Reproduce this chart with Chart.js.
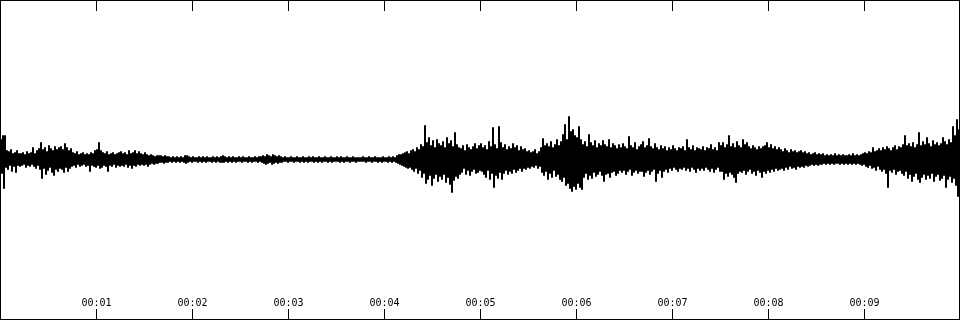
<!DOCTYPE html>
<html>
<head>
<meta charset="utf-8">
<script src="https://cdn.jsdelivr.net/npm/chart.js@4/dist/chart.umd.min.js"></script>
<style>
html,body{margin:0;padding:0;background:#fff;}
#wrap{width:960px;height:320px;}
</style>
</head>
<body>
<div id="wrap"><canvas id="c" width="960" height="320"></canvas></div>
<script>
// Audio waveform envelope: one bin = 1/48 s, peak (hi) and trough (lo) amplitude per bin
const durationSeconds = 10;
const tickSeconds = [1, 2, 3, 4, 5, 6, 7, 8, 9];
const tickLabels = ["00:01", "00:02", "00:03", "00:04", "00:05", "00:06", "00:07", "00:08", "00:09"];

const hi = [
  20,24,24,9,8,10,6,7,9,6,
  6,7,5,8,6,7,12,6,9,11,
  17,10,12,8,14,11,9,13,10,12,
  13,10,16,12,9,11,7,6,8,5,
  6,7,5,6,5,7,6,9,10,17,
  9,7,6,8,5,6,7,5,6,7,
  8,6,7,5,9,6,7,9,6,8,
  6,5,7,5,4,5,4,3,4,4,
  4,3,4,3,3,2,3,2,3,2,
  3,2,4,4,3,2,3,2,2,3,
  2,3,2,3,2,2,3,2,3,2,
  3,4,3,2,3,2,3,2,2,3,
  2,3,2,2,3,2,2,3,2,3,
  3,4,3,5,4,3,5,4,3,4,
  3,2,3,2,2,3,2,2,3,2,
  2,3,2,2,3,2,3,2,2,3,
  2,2,3,2,2,3,2,2,3,2,
  3,2,2,3,2,2,3,2,2,2,
  2,3,2,2,3,2,2,3,2,2,
  2,3,2,2,3,2,3,2,4,5,
  5,6,7,8,6,9,10,8,12,10,
  15,13,34,17,22,14,19,12,20,16,
  14,18,12,22,16,19,13,27,15,12,
  11,14,9,15,12,10,13,16,11,14,
  16,12,14,10,18,13,32,15,11,33,
  17,12,15,10,13,11,16,12,14,9,
  13,10,11,8,9,7,8,10,6,8,
  12,21,14,16,13,18,12,15,20,14,
  18,25,35,20,43,28,30,24,22,33,
  20,15,18,13,25,17,14,19,12,16,
  14,19,15,13,20,12,16,14,11,15,
  12,16,13,11,23,14,12,17,10,13,
  15,18,12,14,21,13,11,16,12,10,
  14,11,13,9,12,10,14,11,9,12,
  11,13,9,20,12,10,14,9,12,11,
  10,13,9,12,11,15,10,12,9,17,
  14,17,12,15,24,13,16,12,18,14,
  12,20,15,17,13,11,14,12,10,13,
  11,13,14,17,12,15,11,13,10,12,
  10,8,11,9,7,10,8,9,7,8,
  9,7,8,6,7,5,6,7,5,6,
  5,6,4,5,4,5,4,6,4,5,
  4,5,4,4,5,4,6,4,5,4,
  5,6,7,6,8,7,12,8,9,11,
  9,12,10,13,11,9,12,14,10,13,
  12,15,24,14,16,13,17,12,15,27,
  14,18,15,22,16,13,19,15,17,14,
  16,22,18,15,20,17,33,24,40,30
];

const lo = [
  -14,-29,-8,-10,-6,-12,-7,-13,-6,-7,
  -6,-5,-8,-6,-7,-5,-7,-9,-6,-10,
  -19,-9,-15,-11,-8,-13,-16,-10,-12,-9,
  -10,-13,-8,-12,-9,-7,-6,-8,-5,-7,
  -6,-5,-7,-6,-12,-6,-7,-8,-6,-9,
  -8,-6,-7,-12,-6,-7,-5,-8,-6,-7,
  -6,-7,-5,-8,-6,-9,-6,-7,-5,-6,
  -5,-6,-5,-7,-5,-4,-5,-4,-4,-3,
  -3,-4,-3,-3,-2,-3,-2,-3,-2,-3,
  -2,-3,-4,-3,-2,-3,-2,-2,-3,-2,
  -3,-2,-3,-2,-2,-3,-2,-3,-2,-3,
  -3,-3,-2,-3,-2,-3,-2,-3,-2,-2,
  -3,-2,-2,-3,-2,-3,-2,-2,-3,-2,
  -3,-4,-5,-4,-3,-5,-4,-3,-4,-3,
  -3,-2,-2,-3,-2,-2,-3,-2,-2,-3,
  -2,-3,-2,-3,-2,-2,-3,-2,-3,-2,
  -3,-2,-2,-3,-2,-3,-2,-2,-2,-3,
  -2,-3,-2,-2,-3,-2,-2,-3,-2,-2,
  -2,-2,-3,-2,-2,-3,-2,-2,-3,-2,
  -3,-2,-2,-3,-2,-3,-2,-3,-4,-5,
  -6,-7,-8,-9,-8,-10,-12,-9,-14,-11,
  -18,-14,-24,-20,-16,-26,-19,-15,-22,-17,
  -20,-15,-23,-18,-25,-33,-21,-17,-19,-15,
  -13,-9,-15,-11,-16,-12,-10,-14,-13,-11,
  -12,-15,-18,-11,-20,-14,-28,-16,-19,-13,
  -20,-14,-11,-15,-12,-14,-10,-13,-11,-9,
  -12,-9,-10,-8,-9,-7,-8,-6,-9,-7,
  -13,-16,-12,-20,-14,-18,-11,-17,-15,-20,
  -22,-18,-26,-24,-29,-32,-27,-30,-24,-28,
  -30,-18,-14,-20,-16,-19,-13,-17,-15,-12,
  -16,-22,-15,-14,-18,-13,-12,-16,-14,-11,
  -13,-11,-15,-12,-10,-16,-13,-11,-14,-12,
  -12,-17,-13,-11,-15,-12,-10,-22,-14,-11,
  -18,-12,-10,-13,-9,-11,-8,-10,-12,-9,
  -10,-8,-11,-9,-12,-8,-10,-13,-9,-11,
  -9,-11,-8,-10,-12,-9,-13,-10,-8,-12,
  -12,-20,-14,-17,-13,-15,-18,-23,-14,-12,
  -13,-11,-15,-12,-10,-14,-12,-16,-11,-13,
  -18,-12,-14,-11,-13,-10,-12,-9,-11,-10,
  -9,-11,-8,-10,-7,-9,-8,-10,-7,-8,
  -7,-8,-6,-7,-6,-5,-6,-5,-6,-5,
  -5,-4,-5,-4,-5,-4,-5,-4,-4,-5,
  -4,-5,-4,-5,-4,-5,-4,-5,-4,-5,
  -6,-5,-7,-8,-6,-9,-8,-11,-7,-10,
  -12,-10,-14,-28,-11,-13,-10,-15,-12,-11,
  -14,-16,-12,-19,-15,-22,-17,-14,-20,-23,
  -18,-15,-20,-16,-19,-14,-22,-17,-15,-21,
  -19,-16,-28,-20,-17,-23,-19,-26,-37,-30
];

const binSeconds = durationSeconds / hi.length;
const points = [];
for (let i = 0; i < hi.length; i++) {
  points.push({ x: (i + 0.25) * binSeconds, y: hi[i] });
  points.push({ x: (i + 0.75) * binSeconds, y: lo[i] });
}

const framePlugin = {
  id: 'frame',
  afterDraw(chart) {
    const ctx = chart.ctx;
    const xs = chart.scales.x;
    const w = chart.width, h = chart.height;
    ctx.save();
    ctx.strokeStyle = '#000';
    ctx.lineWidth = 1;
    ctx.strokeRect(0.5, 0.5, w - 1, h - 1);
    ctx.beginPath();
    tickSeconds.forEach(t => {
      const px = Math.round(xs.getPixelForValue(t)) + 0.5;
      ctx.moveTo(px, 0); ctx.lineTo(px, 11);
      ctx.moveTo(px, h - 11); ctx.lineTo(px, h);
    });
    ctx.stroke();
    ctx.fillStyle = '#000';
    ctx.font = '10px "DejaVu Sans Mono", monospace';
    ctx.textAlign = 'center';
    ctx.textBaseline = 'alphabetic';
    tickSeconds.forEach((t, k) => {
      const px = Math.round(xs.getPixelForValue(t)) + 0.5;
      ctx.fillText(tickLabels[k], px, h - 14);
    });
    ctx.restore();
  }
};

new Chart(document.getElementById('c'), {
  type: 'line',
  data: {
    datasets: [{
      data: points,
      borderColor: '#000',
      borderWidth: 1,
      pointRadius: 0,
      tension: 0,
      stepped: true,
      fill: false
    }]
  },
  options: {
    responsive: false,
    animation: false,
    events: [],
    layout: { padding: 0 },
    plugins: { legend: { display: false }, tooltip: { enabled: false } },
    scales: {
      x: { type: 'linear', min: 0, max: durationSeconds, display: false },
      y: { type: 'linear', min: -160.5, max: 159.5, display: false }
    }
  },
  plugins: [framePlugin]
});
</script>
</body>
</html>
